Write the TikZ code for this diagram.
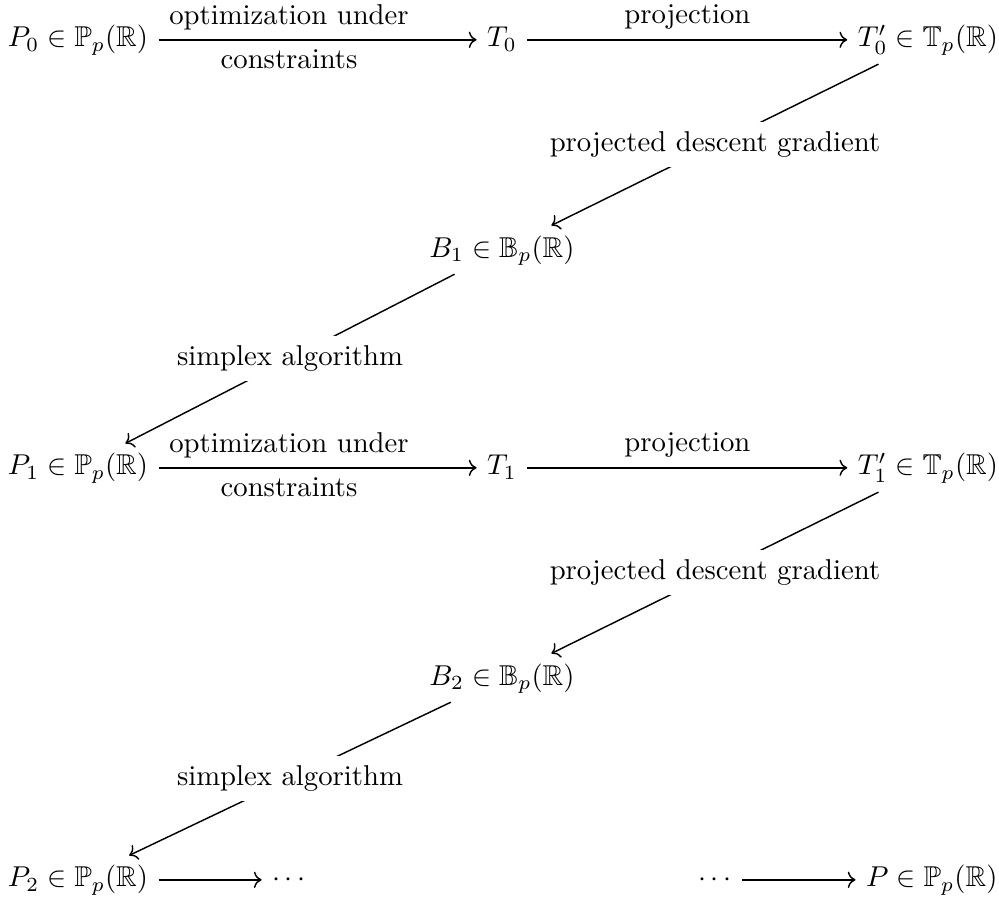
\documentclass[tikz,border=0pt]{standalone}
\usepackage{amssymb}
\usepackage{tikz}
\usetikzlibrary{arrows.meta}

\begin{document}
\begin{tikzpicture}[
  every node/.style={font=\normalsize},
  obj/.style={anchor=base, text height=7.5pt, text depth=2.5pt, inner xsep=3.5pt, inner ysep=3.3pt},
  arr/.style={-{Computer Modern Rightarrow}, line width=0.5pt},
  desc/.style={fill=white, inner sep=3.3pt},
  lbl/.style={inner sep=3.3pt}
]
\useasboundingbox (0,0) rectangle (12.233,11.106);

% --- Row 1 ---
\node[obj] (P0) at (0.955, 10.531) {$P_0 \in \mathbb{P}_p(\mathbb{R})$};
\node[obj] (T0) at (6.147, 10.531) {$T_0$};
\node[obj] (T0p) at (11.363, 10.531) {$T_0' \in \mathbb{T}_p(\mathbb{R})$};

% --- Row 2 ---
\node[obj] (B1) at (6.147, 7.959) {$B_1 \in \mathbb{B}_p(\mathbb{R})$};

% --- Row 3 ---
\node[obj] (P1) at (0.955, 5.290) {$P_1 \in \mathbb{P}_p(\mathbb{R})$};
\node[obj] (T1) at (6.147, 5.290) {$T_1$};
\node[obj] (T1p) at (11.363, 5.290) {$T_1' \in \mathbb{T}_p(\mathbb{R})$};

% --- Row 4 ---
\node[obj] (B2) at (6.147, 2.718) {$B_2 \in \mathbb{B}_p(\mathbb{R})$};

% --- Row 5 ---
\node[obj] (P2) at (0.955, 0.245) {$P_2 \in \mathbb{P}_p(\mathbb{R})$};
\node[obj] (dotsA) at (3.539, 0.245) {$\cdots$};
\node[obj] (dotsB) at (8.755, 0.245) {$\cdots$};
\node[obj] (P) at (11.41, 0.245) {$P \in \mathbb{P}_p(\mathbb{R})$};

% --- Arrows ---
\draw[arr] (P0) -- node[lbl, above, pos=0.41] {optimization under}
                   node[lbl, below, pos=0.41] {constraints} (T0);
\draw[arr] (T0) -- node[lbl, above] {projection} (T0p);
\draw[arr] (T0p) -- node[desc] {projected descent gradient} (B1);
\draw[arr] (B1) -- node[desc] {simplex algorithm} (P1);

\draw[arr] (P1) -- node[lbl, above, pos=0.41] {optimization under}
                   node[lbl, below, pos=0.41] {constraints} (T1);
\draw[arr] (T1) -- node[lbl, above] {projection} (T1p);
\draw[arr] (T1p) -- node[desc] {projected descent gradient} (B2);
\draw[arr] (B2) -- node[desc] {simplex algorithm} (P2);

\draw[arr] (P2) -- (dotsA);
\draw[arr] (dotsB) -- (P);

\end{tikzpicture}
\end{document}
